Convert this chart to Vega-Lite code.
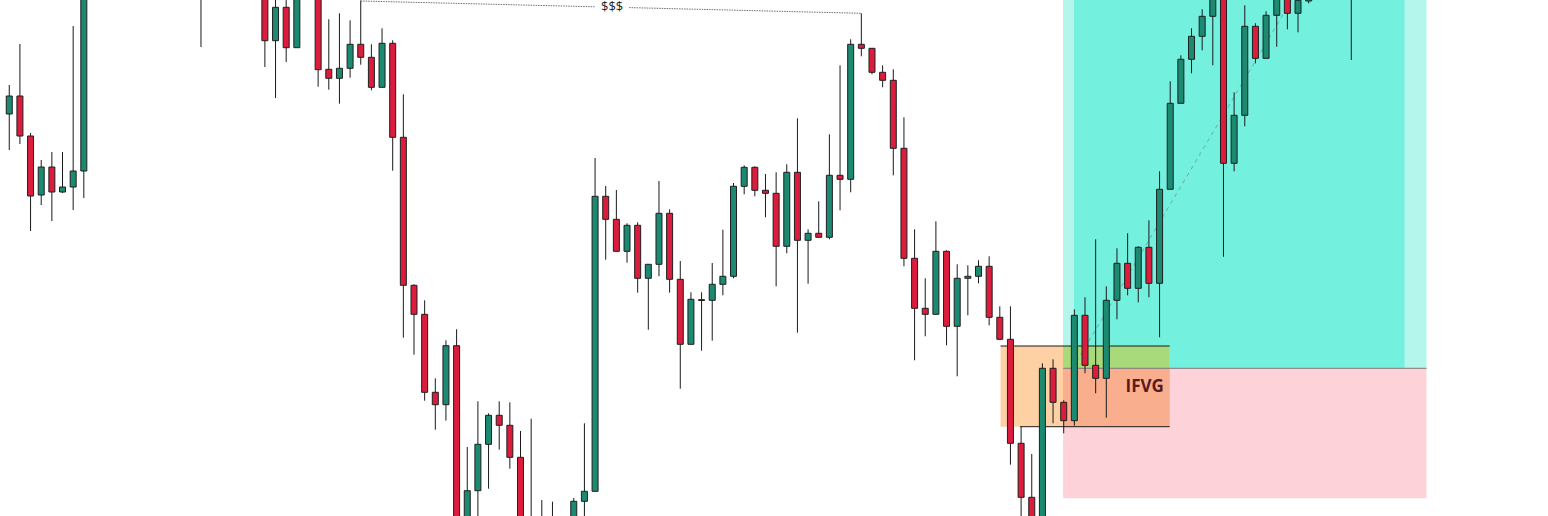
{
  "$schema": "https://vega.github.io/schema/vega-lite/v6.json",
  "width": 1548,
  "height": 516,
  "padding": 0,
  "autosize": {"type": "none"},
  "background": "#ffffff",
  "config": {"view": {"stroke": null}},
  "datasets": {
    "candles": [
      {"i":0,"o":486,"h":515,"l":450,"c":504},
      {"i":1,"o":504,"h":556,"l":456,"c":464},
      {"i":2,"o":464,"h":467,"l":369,"c":404},
      {"i":3,"o":405,"h":440,"l":395,"c":433},
      {"i":4,"o":433,"h":448,"l":379,"c":408},
      {"i":5,"o":408,"h":448,"l":407,"c":413},
      {"i":6,"o":413,"h":574,"l":390,"c":429},
      {"i":7,"o":429,"h":650,"l":402,"c":640},
      {"i":18,"o":620,"h":660,"l":553,"c":640},
      {"i":24,"o":620,"h":630,"l":533,"c":559.3},
      {"i":25,"o":559.3,"h":610,"l":502,"c":592.7},
      {"i":26,"o":592.7,"h":605,"l":538,"c":552.3},
      {"i":27,"o":552.3,"h":620,"l":552.3,"c":615},
      {"i":29,"o":615,"h":620,"l":513.3,"c":530.3},
      {"i":30,"o":530.7,"h":580.7,"l":510.3,"c":521.7},
      {"i":31,"o":521.7,"h":586.7,"l":496.3,"c":531.7},
      {"i":32,"o":531.7,"h":579.7,"l":522.3,"c":555.7},
      {"i":33,"o":555.7,"h":599.5,"l":535.3,"c":542.7},
      {"i":34,"o":542.7,"h":555.7,"l":509.7,"c":512.7},
      {"i":35,"o":512.7,"h":571.7,"l":512.7,"c":556.7},
      {"i":36,"o":556.7,"h":559.7,"l":429.3,"c":462.7},
      {"i":37,"o":462.7,"h":505.7,"l":262.3,"c":314.7},
      {"i":38,"o":314.7,"h":315.7,"l":245.3,"c":285.7},
      {"i":39,"o":285.7,"h":299.7,"l":199.3,"c":207.7},
      {"i":40,"o":207.7,"h":221.7,"l":170.3,"c":195.3},
      {"i":41,"o":195.3,"h":259.7,"l":179.3,"c":254.3},
      {"i":42,"o":254.3,"h":270.7,"l":50,"c":60},
      {"i":43,"o":70,"h":153,"l":60,"c":109.3},
      {"i":44,"o":109.3,"h":198.7,"l":70,"c":155.7},
      {"i":45,"o":155.7,"h":186.7,"l":111.3,"c":184.7},
      {"i":46,"o":184.7,"h":198.7,"l":150.3,"c":174.7},
      {"i":47,"o":174.7,"h":197.7,"l":131.3,"c":142.7},
      {"i":48,"o":142.7,"h":169,"l":60,"c":70},
      {"i":49,"o":70,"h":181.3,"l":50,"c":60},
      {"i":50,"o":65,"h":100,"l":55,"c":75},
      {"i":51,"o":70,"h":98.3,"l":55,"c":78},
      {"i":53,"o":70,"h":102,"l":60,"c":98.7},
      {"i":54,"o":98.7,"h":176.7,"l":70,"c":108.7},
      {"i":55,"o":108.7,"h":442,"l":108.7,"c":403.7},
      {"i":56,"o":403.7,"h":414,"l":340.3,"c":380.7},
      {"i":57,"o":380.7,"h":410,"l":348.7,"c":348.7},
      {"i":58,"o":348.7,"h":376.7,"l":337.3,"c":374.7},
      {"i":59,"o":374.7,"h":377.7,"l":307.3,"c":321.7},
      {"i":60,"o":321.7,"h":335.7,"l":270.3,"c":335.7},
      {"i":61,"o":335.7,"h":419,"l":323.7,"c":386.7},
      {"i":62,"o":386.7,"h":390.7,"l":307.3,"c":320.7},
      {"i":63,"o":320.7,"h":339,"l":211.3,"c":255.7},
      {"i":64,"o":255.7,"h":307.7,"l":255.7,"c":300.7},
      {"i":65,"o":300.3,"h":307.7,"l":249.3,"c":299.5},
      {"i":66,"o":299.7,"h":337,"l":259.3,"c":315.7},
      {"i":67,"o":315.7,"h":370.3,"l":304.7,"c":323.7},
      {"i":68,"o":323.7,"h":417,"l":321.7,"c":413.7},
      {"i":69,"o":413.7,"h":434.7,"l":405.7,"c":432.7},
      {"i":70,"o":432.7,"h":433.7,"l":403.7,"c":409.7},
      {"i":71,"o":409.7,"h":426,"l":382.7,"c":406.7},
      {"i":72,"o":406.7,"h":427.7,"l":313.7,"c":353.7},
      {"i":73,"o":353.7,"h":435.7,"l":346.7,"c":427.7},
      {"i":74,"o":427.7,"h":481.7,"l":267.3,"c":359.7},
      {"i":75,"o":359.7,"h":370.7,"l":316.3,"c":366.7},
      {"i":76,"o":366.7,"h":398.7,"l":362.7,"c":362.7},
      {"i":77,"o":362.7,"h":465.7,"l":360.7,"c":424.7},
      {"i":78,"o":424.7,"h":534.7,"l":389.7,"c":420.7},
      {"i":79,"o":420.7,"h":560.7,"l":407.7,"c":555.7},
      {"i":80,"o":555.7,"h":586.7,"l":543.7,"c":551.7},
      {"i":81,"o":551.7,"h":551.7,"l":525.7,"c":527.7},
      {"i":82,"o":527.7,"h":534.7,"l":512.7,"c":519.7},
      {"i":83,"o":519.7,"h":530.7,"l":424.7,"c":451.7},
      {"i":84,"o":451.7,"h":482.7,"l":333.7,"c":341.7},
      {"i":85,"o":341.7,"h":370.7,"l":239.7,"c":291.7},
      {"i":86,"o":291.7,"h":321.7,"l":263.7,"c":285.7},
      {"i":87,"o":285.7,"h":378.7,"l":285.7,"c":348.7},
      {"i":88,"o":348.7,"h":349.7,"l":254.7,"c":273.7},
      {"i":89,"o":273.7,"h":335.7,"l":223.7,"c":321.7},
      {"i":90,"o":321.7,"h":334.7,"l":284.7,"c":323.7},
      {"i":91,"o":323.7,"h":339.7,"l":316.7,"c":333.7},
      {"i":92,"o":333.7,"h":343.7,"l":274.7,"c":282.7},
      {"i":93,"o":282.7,"h":293.7,"l":260.7,"c":260.7},
      {"i":94,"o":260.7,"h":293.7,"l":135.3,"c":156.7},
      {"i":95,"o":156.7,"h":173.3,"l":70,"c":102.7},
      {"i":96,"o":102.7,"h":146,"l":50,"c":60},
      {"i":97,"o":60,"h":236.7,"l":50,"c":231.7},
      {"i":98,"o":231.7,"h":240.7,"l":176.7,"c":197.7},
      {"i":99,"o":197.7,"h":199.7,"l":166.7,"c":179.3},
      {"i":100,"o":179.3,"h":290.7,"l":174.3,"c":284.7},
      {"i":101,"o":284.7,"h":302.7,"l":226.7,"c":234.7},
      {"i":102,"o":234.7,"h":360.7,"l":206.7,"c":221.7},
      {"i":103,"o":221.7,"h":313.7,"l":182.3,"c":299.7},
      {"i":104,"o":299.7,"h":351.7,"l":280.7,"c":336.7},
      {"i":105,"o":336.7,"h":366.7,"l":304.7,"c":311.7},
      {"i":106,"o":311.7,"h":353.7,"l":297.7,"c":352.7},
      {"i":107,"o":352.7,"h":379.7,"l":302.7,"c":316.7},
      {"i":108,"o":316.7,"h":428.7,"l":262.7,"c":410.7},
      {"i":109,"o":410.7,"h":518.7,"l":410.7,"c":496.7},
      {"i":110,"o":496.7,"h":544.7,"l":496.7,"c":540.7},
      {"i":111,"o":540.7,"h":571.7,"l":526.7,"c":563.7},
      {"i":112,"o":563.7,"h":590.7,"l":549.7,"c":583.7},
      {"i":113,"o":583.7,"h":635,"l":534.7,"c":625},
      {"i":114,"o":625,"h":635,"l":343.3,"c":436.7},
      {"i":115,"o":436.7,"h":507.7,"l":428.7,"c":484.7},
      {"i":116,"o":484.7,"h":594.7,"l":473.7,"c":573.7},
      {"i":117,"o":573.7,"h":576.7,"l":536.7,"c":541.7},
      {"i":118,"o":541.7,"h":588.7,"l":541.7,"c":584.7},
      {"i":119,"o":584.7,"h":615,"l":553.3,"c":610},
      {"i":120,"o":612,"h":618,"l":570.7,"c":586.7},
      {"i":121,"o":586.7,"h":605,"l":567.7,"c":599.7},
      {"i":122,"o":599,"h":605,"l":596.7,"c":601},
      {"i":126,"o":620,"h":630,"l":540,"c":615}
    ],
    "zones": [
      {"kind":"lightteal","x1":98.94,"x2":133.06,"p1":231.7,"p2":620},
      {"kind":"teal","x1":99.97,"x2":131.0,"p1":231.7,"p2":620},
      {"kind":"pink","x1":98.94,"x2":133.06,"p1":101.7,"p2":231.7},
      {"kind":"peach","x1":93.07,"x2":108.95,"p1":173.3,"p2":254},
      {"kind":"green","x1":98.94,"x2":108.95,"p1":231.7,"p2":254},
      {"kind":"salmon","x1":98.94,"x2":108.95,"p1":173.3,"p2":231.7}
    ],
    "hlines": [
      {"kind":"gray","x1":98.94,"x2":133.06,"p":231.7},
      {"kind":"black","x1":93.07,"x2":108.95,"p":254},
      {"kind":"black","x1":94.9,"x2":108.95,"p":173.3}
    ],
    "dotted": [
      {"seg":"a","i":33,"p":599},
      {"seg":"a","i":55.0,"p":593.2},
      {"seg":"b","i":58.2,"p":592.4},
      {"seg":"b","i":80,"p":586.7}
    ],
    "dashed": [
      {"i":100.2,"p":238},
      {"i":120.4,"p":600}
    ],
    "labels": [
      {"txt":"$$$","i":56.6,"p":593,"kind":"liq"},
      {"txt":"IFVG","i":106.6,"p":213.3,"kind":"zone"}
    ]
  },
  "resolve": {"scale": {"color": "independent", "fill": "independent", "stroke": "independent"}},
  "layer": [
    {
      "data": {"name": "zones"},
      "mark": {"type": "rect", "clip": true},
      "encoding": {
        "x": {"field": "x1", "type": "quantitative", "scale": {"domain": [-0.4, 144.0], "nice": false, "zero": false}, "axis": null},
        "x2": {"field": "x2"},
        "y": {"field": "p1", "type": "quantitative", "scale": {"domain": [84, 600], "nice": false, "zero": false}, "axis": null},
        "y2": {"field": "p2"},
        "fill": {"field": "kind", "type": "nominal", "legend": null,
          "scale": {"domain": ["lightteal","teal","pink","peach","green","salmon"],
                    "range": ["#b4f5ec","#74f0df","#fdd3d9","#fdd1a3","#a8d97b","#f9ae8e"]}}
      }
    },
    {
      "data": {"name": "hlines"},
      "mark": {"type": "rule", "clip": true, "strokeWidth": 1},
      "encoding": {
        "x": {"field": "x1", "type": "quantitative", "scale": {"domain": [-0.4, 144.0], "nice": false, "zero": false}, "axis": null},
        "x2": {"field": "x2"},
        "y": {"field": "p", "type": "quantitative", "scale": {"domain": [84, 600], "nice": false, "zero": false}, "axis": null},
        "stroke": {"field": "kind", "type": "nominal", "legend": null,
          "scale": {"domain": ["gray","black"], "range": ["#7a7a7a","#1a1a1a"]}}
      }
    },
    {
      "data": {"name": "dotted"},
      "mark": {"type": "line", "clip": true, "strokeWidth": 1, "color": "#6f6f6f", "strokeDash": [1.5, 1]},
      "encoding": {
        "x": {"field": "i", "type": "quantitative", "scale": {"domain": [-0.4, 144.0], "nice": false, "zero": false}, "axis": null},
        "y": {"field": "p", "type": "quantitative", "scale": {"domain": [84, 600], "nice": false, "zero": false}, "axis": null},
        "detail": {"field": "seg", "type": "nominal"}
      }
    },
    {
      "data": {"name": "dashed"},
      "mark": {"type": "line", "clip": true, "strokeWidth": 1, "color": "#6fa9a0", "strokeDash": [4, 4]},
      "encoding": {
        "x": {"field": "i", "type": "quantitative", "scale": {"domain": [-0.4, 144.0], "nice": false, "zero": false}, "axis": null},
        "y": {"field": "p", "type": "quantitative", "scale": {"domain": [84, 600], "nice": false, "zero": false}, "axis": null}
      }
    },
    {
      "data": {"name": "candles"},
      "mark": {"type": "rule", "clip": true, "strokeWidth": 1, "color": "#1a1a1a"},
      "encoding": {
        "x": {"field": "i", "type": "quantitative", "scale": {"domain": [-0.4, 144.0], "nice": false, "zero": false}, "axis": null},
        "y": {"field": "l", "type": "quantitative", "scale": {"domain": [84, 600], "nice": false, "zero": false}, "axis": null},
        "y2": {"field": "h"}
      }
    },
    {
      "data": {"name": "candles"},
      "mark": {"type": "bar", "clip": true, "size": 6, "stroke": "#1f1f1f", "strokeWidth": 1},
      "encoding": {
        "x": {"field": "i", "type": "quantitative", "scale": {"domain": [-0.4, 144.0], "nice": false, "zero": false}, "axis": null},
        "y": {"field": "o", "type": "quantitative", "scale": {"domain": [84, 600], "nice": false, "zero": false}, "axis": null},
        "y2": {"field": "c"},
        "fill": {"condition": {"test": "datum.c >= datum.o", "value": "#1b8a70"}, "value": "#dc1c3d"}
      }
    },
    {
      "data": {"name": "labels"},
      "transform": [{"filter": "datum.kind === 'liq'"}],
      "mark": {"type": "text", "font": "Open Sans", "fontSize": 13, "color": "#1e1e1e", "align": "center", "baseline": "middle"},
      "encoding": {
        "x": {"field": "i", "type": "quantitative", "scale": {"domain": [-0.4, 144.0], "nice": false, "zero": false}, "axis": null},
        "y": {"field": "p", "type": "quantitative", "scale": {"domain": [84, 600], "nice": false, "zero": false}, "axis": null},
        "text": {"field": "txt"}
      }
    },
    {
      "data": {"name": "labels"},
      "transform": [{"filter": "datum.kind === 'zone'"}],
      "mark": {"type": "text", "font": "Open Sans", "fontSize": 17, "fontWeight": "bold", "color": "#5c1a1e", "align": "center", "baseline": "middle"},
      "encoding": {
        "x": {"field": "i", "type": "quantitative", "scale": {"domain": [-0.4, 144.0], "nice": false, "zero": false}, "axis": null},
        "y": {"field": "p", "type": "quantitative", "scale": {"domain": [84, 600], "nice": false, "zero": false}, "axis": null},
        "text": {"field": "txt"}
      }
    }
  ]
}
